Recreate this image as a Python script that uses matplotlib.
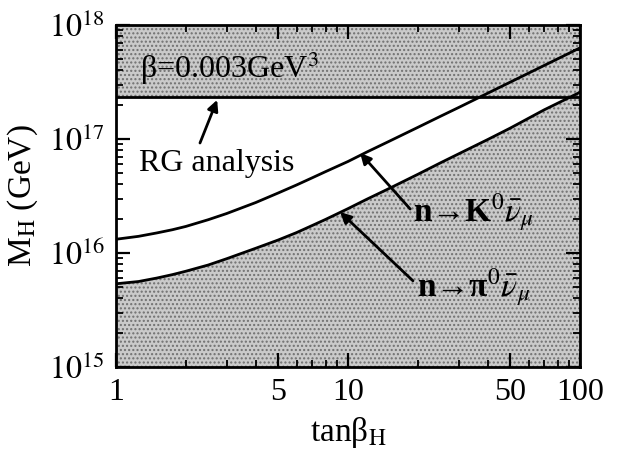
import matplotlib
matplotlib.use("Agg")
import matplotlib.pyplot as plt
from matplotlib.ticker import FixedLocator, FixedFormatter, LogLocator, NullFormatter

# values
tan_beta = [1, 1.25, 1.5, 1.75, 2, 2.5, 3, 4, 5, 6, 7, 8, 10, 12, 15,
            20, 25, 30, 40, 50, 70, 100]
m_kaon = [1.32e16, 1.40e16, 1.50e16, 1.60e16, 1.71e16, 1.96e16, 2.22e16,
          2.77e16, 3.36e16, 3.95e16, 4.56e16, 5.17e16, 6.35e16, 7.65e16,
          9.52e16, 1.265e17, 1.58e17, 1.89e17, 2.52e17, 3.15e17, 4.41e17,
          6.3e17]
m_pion = [5.37e15, 5.62e15, 6.03e15, 6.46e15, 6.92e15, 7.85e15, 8.91e15,
          1.10e16, 1.30e16, 1.51e16, 1.74e16, 1.97e16, 2.45e16, 2.95e16,
          3.67e16, 4.90e16, 6.17e16, 7.41e16, 9.89e16, 1.245e17, 1.80e17,
          2.57e17]
m_rg = 2.34e17

x_ticks = [1, 5, 10, 50, 100]
x_labels = ["1", "5", "10", "50", "100"]
y_ticks = [1e15, 1e16, 1e17, 1e18]
y_labels = [r"$10^{15}$", r"$10^{16}$", r"$10^{17}$", r"$10^{18}$"]

plt.rcParams["font.family"] = ["Liberation Serif", "DejaVu Serif"]
plt.rcParams["mathtext.fontset"] = "stix"
plt.rcParams["hatch.linewidth"] = 1.0

fig = plt.figure(figsize=(6.23, 4.53), dpi=100)
ax = fig.add_axes([116/623, 1-367/453, 464/623, 342/453])
ax.set_xscale("log")
ax.set_yscale("log")
ax.set_xlim(1, 100)
ax.set_ylim(1e15, 1e18)

shade = "#cacaca"
dots = "#707070"
ax.fill_between(tan_beta, 1e15, m_pion, facecolor=shade, edgecolor=dots,
                hatch="....", lw=0, zorder=1)
ax.axhspan(m_rg, 1e18, facecolor=shade, edgecolor=dots, hatch="....",
           lw=0, zorder=1)

ax.plot(tan_beta, m_kaon, color="k", lw=2, zorder=3)
ax.plot(tan_beta, m_pion, color="k", lw=2, zorder=3)
ax.axhline(m_rg, color="k", lw=2, zorder=3)

arrow = dict(arrowstyle="-|>", color="k", lw=2, mutation_scale=16,
             shrinkA=0, shrinkB=0)
ax.text(0.052, 0.874, "β=0.003GeV$^3$", transform=ax.transAxes,
        fontsize=23, ha="left", va="center", zorder=4)
ax.text(0.05, 0.596, "RG analysis", transform=ax.transAxes,
        fontsize=23, ha="left", va="center", zorder=4)
ax.annotate("", xy=(0.218, 0.781), xytext=(0.181, 0.655),
            xycoords="axes fraction", arrowprops=arrow, zorder=4)

ax.text(0.640, 0.450, r"n→K$^0\bar{\nu}_\mu$", transform=ax.transAxes,
        fontsize=24, fontweight="bold", ha="left", va="center", zorder=4)
ax.annotate("", xy=(0.526, 0.626), xytext=(0.634, 0.462),
            xycoords="axes fraction", arrowprops=arrow, zorder=4)

ax.text(0.649, 0.231, r"n→π$^0\bar{\nu}_\mu$", transform=ax.transAxes,
        fontsize=24, fontweight="bold", ha="left", va="center", zorder=4)
ax.annotate("", xy=(0.483, 0.453), xytext=(0.640, 0.252),
            xycoords="axes fraction", arrowprops=arrow, zorder=4)

ax.xaxis.set_major_locator(FixedLocator(x_ticks))
ax.xaxis.set_major_formatter(FixedFormatter(x_labels))
ax.xaxis.set_minor_locator(LogLocator(base=10, subs=range(2, 10)))
ax.xaxis.set_minor_formatter(NullFormatter())
ax.yaxis.set_major_locator(FixedLocator(y_ticks))
ax.yaxis.set_major_formatter(FixedFormatter(y_labels))
ax.yaxis.set_minor_locator(LogLocator(base=10, subs=range(2, 10)))
ax.yaxis.set_minor_formatter(NullFormatter())

ax.tick_params(which="both", direction="in", top=True, right=True, labelsize=23)
ax.tick_params(which="major", length=10, width=1.6, pad=8)
ax.tick_params(which="minor", length=5, width=1.3)
for s in ax.spines.values():
    s.set_linewidth(2)

ax.set_xlabel("tanβ$_\\mathrm{H}$", fontsize=24, labelpad=6)
ax.set_ylabel("M$_\\mathrm{H}$ (GeV)", fontsize=24, labelpad=6)

fig.savefig("out.png", dpi=100)
